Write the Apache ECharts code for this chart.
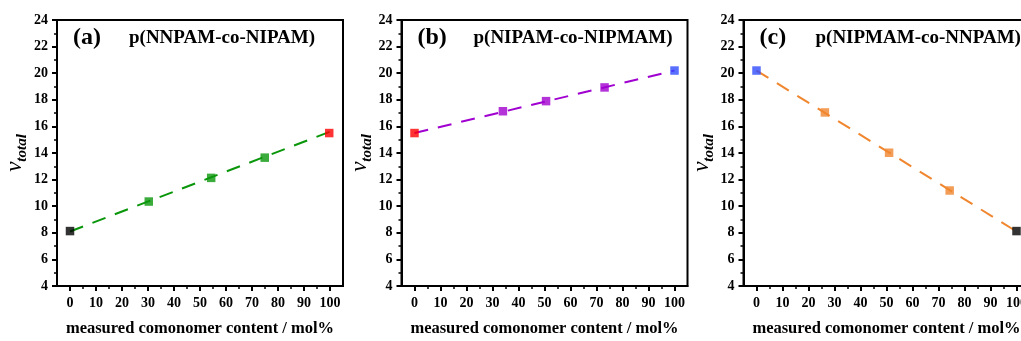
<!DOCTYPE html>
<html>
<head>
<meta charset="utf-8">
<script src="https://cdn.jsdelivr.net/npm/echarts@6/dist/echarts.min.js"></script>
<style>html,body{margin:0;padding:0;background:#fff}#c{width:1021px;height:341px}</style>
</head>
<body>
<div id="c"></div>
<script>
// ---- data ----
const panelLetters = ['(a)', '(b)', '(c)'];
const panelTitles = ['p(NNPAM-co-NIPAM)', 'p(NIPAM-co-NIPMAM)', 'p(NIPMAM-co-NNPAM)'];
const xTickValues = [0, 10, 20, 30, 40, 50, 60, 70, 80, 90, 100];
const xMinorValues = [5, 15, 25, 35, 45, 55, 65, 75, 85, 95];

const xA = [0, 30.3, 54.3, 74.9, 99.7];
const yA = [8.13, 10.35, 12.13, 13.65, 15.5];
const fitA = [[0, 8.1], [100, 15.6]];

const xB = [0, 34.0, 50.6, 73.1, 100];
const yB = [15.5, 17.14, 17.9, 18.93, 20.2];
const fitB = [[0, 15.5], [100, 20.2]];

const xC = [0, 26.3, 51.0, 74.3, 100];
const yC = [20.2, 17.05, 14.02, 11.18, 8.13];
const fitC = [[0, 20.2], [100, 8.1]];

// ---- styles ----
const FONT = '"Liberation Serif","Times New Roman",serif';
const cBlack = '#000000', cRed = '#ff0000', cBlue = '#2f4cff';
const cGreen = '#0a960a', cPurple = '#a000d0', cOrange = '#f0862e';
const panels = [
  {x: xA, y: yA, fit: fitA, line: cGreen, colors: [cBlack, cGreen, cGreen, cGreen, cRed]},
  {x: xB, y: yB, fit: fitB, line: cPurple, colors: [cRed, cPurple, cPurple, cPurple, cBlue]},
  {x: xC, y: yC, fit: fitC, line: cOrange, colors: [cBlue, cOrange, cOrange, cOrange, cBlack]}
];
const gridLefts = [57, 401.5, 743.5];
const GW = 286, GT = 20, GH = 266;

const grids = [], xAxes = [], yAxes = [], series = [], titles = [];
panels.forEach((p, i) => {
  grids.push({left: gridLefts[i], top: GT, width: GW, height: GH, show: true,
    containLabel: false, outerBoundsMode: 'none',
    borderColor: '#000', borderWidth: 2, backgroundColor: 'transparent'});
  const labelStyle = {color: '#000', fontFamily: FONT, fontWeight: 'bold', fontSize: 14};
  xAxes.push({type: 'value', gridIndex: i, min: -5, max: 105, position: 'bottom',
    name: 'measured comonomer content / mol%', nameLocation: 'middle', nameGap: 34,
    nameTextStyle: {color: '#000', fontFamily: FONT, fontWeight: 'bold', fontSize: 16.5},
    axisLine: {show: true, onZero: false, lineStyle: {color: '#000', width: 2}},
    axisTick: {show: true, customValues: xTickValues, length: 5, lineStyle: {color: '#000', width: 2}},
    axisLabel: Object.assign({customValues: xTickValues, margin: 10}, labelStyle),
    splitLine: {show: false}});
  xAxes.push({type: 'value', gridIndex: i, min: -5, max: 105, position: 'bottom',
    axisLine: {show: false, onZero: false},
    axisTick: {show: true, customValues: xMinorValues, length: 3, lineStyle: {color: '#000', width: 1.5}},
    axisLabel: {show: false}, splitLine: {show: false}});
  yAxes.push({type: 'value', gridIndex: i, min: 4, max: 24, interval: 2,
    name: '{v|v}{s|total}', nameLocation: 'middle', nameGap: 26,
    nameTextStyle: {rich: {
      v: {fontFamily: FONT, fontStyle: 'italic', fontSize: 23, lineHeight: 30, color: '#000'},
      s: {fontFamily: FONT, fontStyle: 'italic', fontWeight: 'bold', fontSize: 15, lineHeight: 15, verticalAlign: 'bottom', color: '#000'}
    }},
    axisLine: {show: true, onZero: false, lineStyle: {color: '#000', width: 2}},
    axisTick: {show: true, length: 5, lineStyle: {color: '#000', width: 2}},
    minorTick: {show: true, splitNumber: 2, length: 3, lineStyle: {color: '#000', width: 1.5}},
    axisLabel: Object.assign({margin: 9}, labelStyle),
    splitLine: {show: false}});
  series.push({type: 'line', xAxisIndex: 2 * i, yAxisIndex: i, data: p.fit,
    showSymbol: false, symbol: 'none', silent: true, z: 2,
    lineStyle: {color: p.line, width: 2, type: [14, 10]}});
  series.push({type: 'scatter', xAxisIndex: 2 * i, yAxisIndex: i, symbol: 'rect', symbolSize: 8.5, z: 3,
    data: p.x.map((xv, k) => ({value: [xv, p.y[k]], itemStyle: {color: p.colors[k]}}))});
  titles.push({text: panelLetters[i], left: gridLefts[i] + 16, top: 26,
    textStyle: {fontFamily: FONT, fontWeight: 'bold', fontSize: 24, color: '#000'}, padding: 0});
  titles.push({text: panelTitles[i], left: gridLefts[i] + 72, top: 29,
    textStyle: {fontFamily: FONT, fontWeight: 'bold', fontSize: 19, color: '#000'}, padding: 0});
});

const chart = echarts.init(document.getElementById('c'), null, {renderer: 'canvas'});
chart.setOption({
  animation: false,
  backgroundColor: '#fff',
  title: titles,
  grid: grids,
  xAxis: xAxes,
  yAxis: yAxes,
  series: series
});
</script>
</body>
</html>
